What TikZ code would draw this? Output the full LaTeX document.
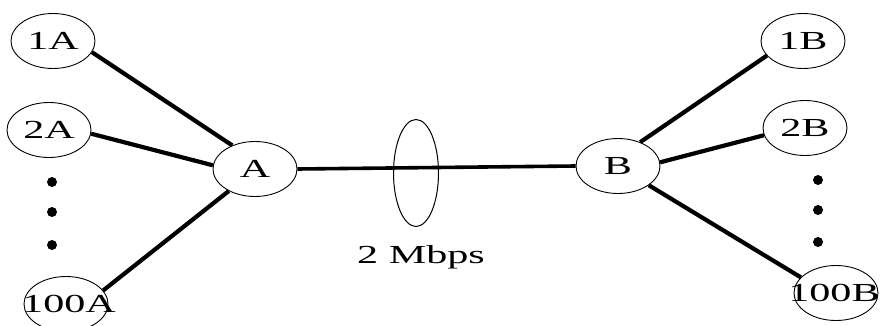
\documentclass[tikz,border=0pt]{standalone}
\usepackage{fontspec}
\setmainfont{Liberation Serif}
\newfontfamily\widefont[FakeStretch=1.62]{Liberation Serif}
\usetikzlibrary{shapes.geometric}
\begin{document}
\begin{tikzpicture}[x=1pt,y=-1pt,
  host/.style={draw=black, line width=0.9pt, ellipse, minimum width=84pt, minimum height=55pt, inner sep=0pt,
    font=\widefont\fontsize{26}{30}\selectfont},
  link/.style={line width=4.2pt},
  dotmark/.style={fill=black, circle, inner sep=0pt, minimum size=10pt}]
\useasboundingbox (0,0) rectangle (883,326);
\node[host] (1A) at (53,41) {\makebox[0pt]{1A}};
\node[host] (2A) at (49,130) {\makebox[0pt]{2A}};
\node[host] (100A) at (66,304) {\makebox[0pt]{\hspace{6pt}100A}};
\node[host] (A) at (255,169) {\makebox[0pt]{A}};
\node[host] (B) at (618,166) {\makebox[0pt]{B}};
\node[host] (1B) at (803,41) {\makebox[0pt]{1B}};
\node[host] (2B) at (805,128) {\makebox[0pt]{2B}};
\node[host] (100B) at (836,293) {\makebox[0pt]{\hspace{-4pt}100B}};
\node[dotmark] (la1) at (52,182) {};
\node[dotmark] (la2) at (52,212) {};
\node[dotmark] (la3) at (52,245) {};
\node[dotmark] (rb1) at (818,180) {};
\node[dotmark] (rb2) at (818,210) {};
\node[dotmark] (rb3) at (818,242) {};
\draw[link] (1A.344) -- (A.134);
\draw[link] (2A.355) -- (A.175);
\draw[link] (100A.20) -- (A.220);
\draw[line width=3.6pt] (A.east) -- (B.west);
\draw[link] (B.47) -- (1B.202);
\draw[link] (B.5) -- (2B.190);
\draw[link] (B.328) -- (100B.156);
\node[draw=black, line width=1pt, ellipse, minimum width=45pt, minimum height=107pt, inner sep=0pt] (ring) at (416,173) {};
\node[font=\widefont\fontsize{26}{30}\selectfont] (rate) at (421,257) {2 Mbps};
\end{tikzpicture}
\end{document}
